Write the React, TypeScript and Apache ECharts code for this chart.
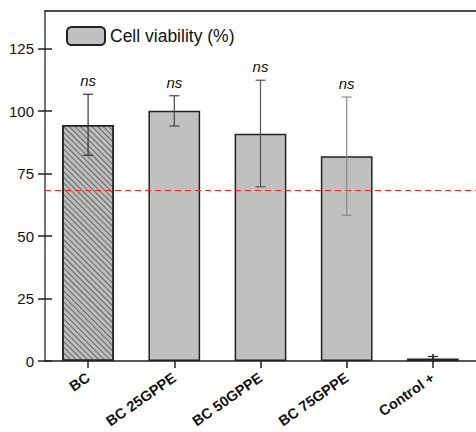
import React, { useEffect, useRef } from "react";
import * as echarts from "echarts";

const categories = ["BC", "BC 25GPPE", "BC 50GPPE", "BC 75GPPE", "Control +"];
const viability = [94.4, 100.1, 90.9, 81.9, 1.0];
const errLow = [82.3, 94.0, 69.7, 58.3, 0.2];
const errHigh = [106.7, 106.1, 112.3, 105.6, 1.8];
const significance = ["ns", "ns", "ns", "ns", ""];
const errColors = ["#333333", "#444444", "#555555", "#888888", "#222222"];
const thresholdValue = 68.3;
const yTicks = [0, 25, 50, 75, 100, 125];

const FONT = "Arial, 'Liberation Sans', sans-serif";

export default function App() {
  const ref = useRef<HTMLDivElement>(null);
  useEffect(() => {
    if (!ref.current) return;
    const chart = echarts.init(ref.current, null, { renderer: "svg" });
    const errData = categories.map((_, i) => [i, errLow[i], errHigh[i], i]);
    chart.setOption({
      animation: false,
      backgroundColor: "#ffffff",
      grid: { left: 45, top: 11, right: -5, bottom: 71, containLabel: false },
      legend: {
        left: 66,
        top: 26,
        padding: 0,
        itemWidth: 38,
        itemHeight: 18,
        itemGap: 5,
        data: ["Cell viability (%)"],
        textStyle: { fontFamily: FONT, fontSize: 17.5, color: "#111", padding: [0, 0, 0, 0] },
      },
      xAxis: [
        {
          type: "category",
          data: categories,
          position: "bottom",
          axisLine: { show: true, lineStyle: { color: "#222", width: 1.5 } },
          axisTick: { show: true, alignWithLabel: true, length: 7, lineStyle: { color: "#222", width: 1.5 } },
          axisLabel: {
            rotate: 35,
            margin: 15,
            fontFamily: FONT,
            fontSize: 14.5,
            fontWeight: "bold",
            color: "#111",
            interval: 0,
          },
        },
        {
          type: "category",
          data: categories,
          position: "bottom",
          axisLine: { show: false },
          axisTick: { show: true, inside: true, alignWithLabel: true, length: 7, lineStyle: { color: "#222", width: 1.5 } },
          axisLabel: { show: false },
        },
        {
          type: "category",
          data: categories,
          position: "top",
          axisLine: { show: true, lineStyle: { color: "#111", width: 1.5 } },
          axisTick: { show: false },
          axisLabel: { show: false },
        },
      ],
      yAxis: [
        {
          type: "value",
          min: 0,
          max: 140,
          interval: 25,
          position: "left",
          splitLine: { show: false },
          axisLine: { show: true, lineStyle: { color: "#444", width: 1.5 } },
          axisTick: { show: true, length: 7, customValues: yTicks, lineStyle: { color: "#222", width: 1.5 } },
          axisLabel: { margin: 11, fontFamily: FONT, fontSize: 15, color: "#111", customValues: yTicks },
        },
        {
          type: "value",
          min: 0,
          max: 140,
          interval: 25,
          position: "left",
          splitLine: { show: false },
          axisLine: { show: false },
          axisTick: { show: true, inside: true, length: 7, customValues: yTicks, lineStyle: { color: "#222", width: 1.5 } },
          axisLabel: { show: false },
        },
      ],
      series: [
        {
          name: "Cell viability (%)",
          type: "bar",
          barWidth: "60%",
          itemStyle: { color: "#c0c0c0", borderColor: "#222", borderWidth: 1.5 },
          data: viability.map((v, i) =>
            i === 0
              ? {
                  value: v,
                  itemStyle: {
                    color: "#bdbdbd",
                    decal: {
                      symbol: "rect",
                      symbolSize: 1,
                      dashArrayX: [1, 0],
                      dashArrayY: [1, 2.2],
                      rotation: Math.PI / 4,
                      color: "rgba(70,70,70,0.75)",
                    },
                  },
                }
              : v
          ),
          markLine: {
            silent: true,
            symbol: ["none", "none"],
            label: { show: false },
            lineStyle: { color: "#ff2020", type: [6, 4], width: 1.2 },
            data: [{ yAxis: thresholdValue }],
          },
          z: 2,
        },
        {
          type: "custom",
          name: "err",
          data: errData,
          z: 5,
          renderItem: (params: any, api: any) => {
            const idx = api.value(0);
            const lo = api.coord([idx, api.value(1)]);
            const hi = api.coord([idx, api.value(2)]);
            const color = errColors[api.value(3)];
            const cap = 5;
            const style = { stroke: color, lineWidth: 1.2 };
            const children: any[] = [
              { type: "line", shape: { x1: hi[0], y1: hi[1], x2: lo[0], y2: lo[1] }, style },
              { type: "line", shape: { x1: hi[0] - cap, y1: hi[1], x2: hi[0] + cap, y2: hi[1] }, style },
              { type: "line", shape: { x1: lo[0] - cap, y1: lo[1], x2: lo[0] + cap, y2: lo[1] }, style },
            ];
            const sig = significance[api.value(3)];
            if (sig) {
              children.push({
                type: "text",
                x: hi[0],
                y: hi[1] - 6,
                style: {
                  text: sig,
                  fontFamily: FONT,
                  fontSize: 15,
                  fontStyle: "italic",
                  fill: "#111",
                  textAlign: "center",
                  textVerticalAlign: "bottom",
                },
              });
            }
            return { type: "group", children };
          },
        },
      ],
    });
    return () => chart.dispose();
  }, []);
  return <div ref={ref} style={{ width: 476, height: 432, position: "absolute", left: 0, top: 0 }} />;
}
